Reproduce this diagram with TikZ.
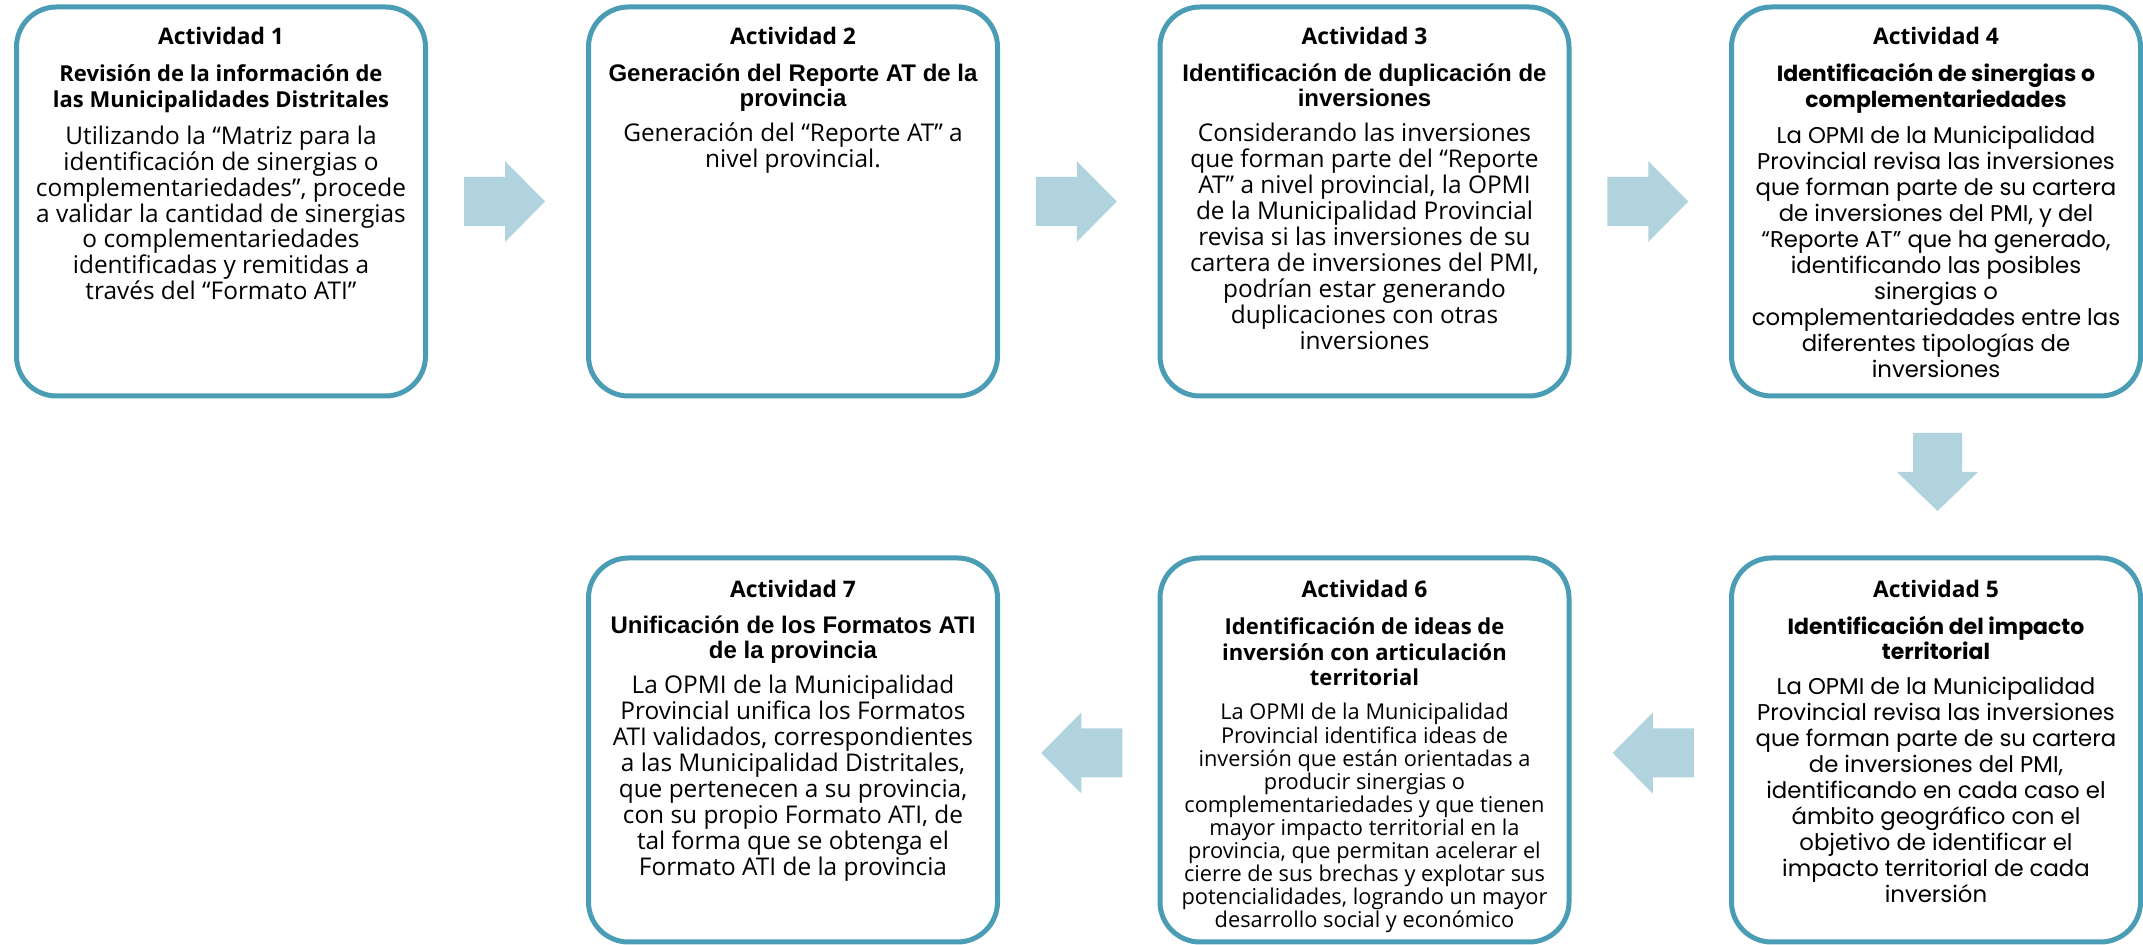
\documentclass[tikz,border=0pt]{standalone}
\usepackage{fontspec}
\setmainfont{Open Sans}
\newfontfamily\popfont{Poppins}
\newfontfamily\arialfont{Liberation Sans}
\usetikzlibrary{calc}
\definecolor{boxline}{RGB}{75,157,181}
\definecolor{arrowfill}{RGB}{176,211,222}
\newcommand{\tblock}[2]{\parbox[t]{230pt}{\centering\lineskiplimit=-100pt\lineskip=0pt #1\ignorespaces #2}}
\newcommand{\fhead}{\fontsize{11.4}{13}\selectfont\bfseries}
\newcommand{\rightblock}[1]{\fill[blockarrow] ([shift={(-40.5,-24.5)}]#1) -- ([shift={(0.5,-24.5)}]#1) -- ([shift={(0.5,-40.5)}]#1) -- ([shift={(40.5,0)}]#1) -- ([shift={(0.5,40.5)}]#1) -- ([shift={(0.5,24.5)}]#1) -- ([shift={(-40.5,24.5)}]#1) -- cycle;}
\newcommand{\leftblock}[1]{\fill[blockarrow] ([shift={(40.5,-24.5)}]#1) -- ([shift={(-0.5,-24.5)}]#1) -- ([shift={(-0.5,-40.5)}]#1) -- ([shift={(-40.5,0)}]#1) -- ([shift={(-0.5,40.5)}]#1) -- ([shift={(-0.5,24.5)}]#1) -- ([shift={(40.5,24.5)}]#1) -- cycle;}
\newcommand{\downblock}[1]{\fill[blockarrow] ([shift={(-24.5,-39)}]#1) -- ([shift={(24.5,-39)}]#1) -- ([shift={(24.5,0)}]#1) -- ([shift={(40.5,0)}]#1) -- ([shift={(0,39)}]#1) -- ([shift={(-40.5,0)}]#1) -- ([shift={(-24.5,0)}]#1) -- cycle;}
\begin{document}
\begin{tikzpicture}[x=0.5pt,y=-0.5pt,
  actbox/.style={draw=boxline, line width=2.5pt, rounded corners=20pt, minimum width=204.5pt, inner sep=0pt, outer sep=0pt},
  toprow/.style={actbox, minimum height=194.5pt},
  botrow/.style={actbox, minimum height=192pt},
  blockarrow/.style={fill=arrowfill, draw=none},
  txt/.style={anchor=base, inner sep=0pt}]
\useasboundingbox (0,0) rectangle (2143,945);

% boxes
\node[toprow] (b1) at (221,201.5) {};
\node[toprow] (b2) at (793,201.5) {};
\node[toprow] (b3) at (1364.5,201.5) {};
\node[toprow] (b4) at (1936,201.5) {};
\node[botrow] (b5) at (1936,750) {};
\node[botrow] (b6) at (1364.5,750) {};
\node[botrow] (b7) at (793,750) {};

% arrows
\coordinate (m12) at ($(b1.east)!0.5!(b2.west)+(-2.5,0)$);
\coordinate (m23) at ($(b2.east)!0.5!(b3.west)+(-2.5,0)$);
\coordinate (m34) at ($(b3.east)!0.5!(b4.west)+(-2.5,0)$);
\coordinate (m45) at ($(b4.south)!0.5!(b5.north)+(1.5,-5)$);
\coordinate (m56) at ($(b5.west)!0.5!(b6.east)+(3,3)$);
\coordinate (m67) at ($(b6.west)!0.5!(b7.east)+(3,3)$);
\rightblock{m12}
\rightblock{m23}
\rightblock{m34}
\downblock{m45}
\leftblock{m56}
\leftblock{m67}

% Box 1
\node[txt] (h1) at (221,45) {\tblock{\fhead}{Actividad 1}};
\node[txt] (s1) at (221,82) {\tblock{\fontsize{11}{13}\selectfont\bfseries}{Revisión de la información de\\las Municipalidades Distritales}};
\node[txt] (d1) at (221,145) {\tblock{\fontsize{12.2}{12.85}\selectfont}{Utilizando la “Matriz para la\\identificación de sinergias o\\complementariedades”, procede\\a validar la cantidad de sinergias\\o complementariedades\\identificadas y remitidas a\\través del “Formato ATI”}};

% Box 2
\node[txt] (h2) at (793,45) {\tblock{\fhead}{Actividad 2}};
\node[txt] (s2) at (793,82) {\tblock{\arialfont\fontsize{12}{12.5}\selectfont\bfseries}{Generación del Reporte AT de la\\provincia}};
\node[txt] (d2) at (793,142) {\tblock{\fontsize{12.2}{12.95}\selectfont}{Generación del “Reporte AT” a\\nivel provincial.}};

% Box 3
\node[txt] (h3) at (1364.5,45) {\tblock{\fhead}{Actividad 3}};
\node[txt] (s3) at (1364.5,82) {\tblock{\arialfont\fontsize{12}{12.5}\selectfont\bfseries}{Identificación de duplicación de\\inversiones}};
\node[txt] (d3) at (1364.5,142) {\tblock{\fontsize{12.2}{12.95}\selectfont}{Considerando las inversiones\\que forman parte del “Reporte\\AT” a nivel provincial, la OPMI\\de la Municipalidad Provincial\\revisa si las inversiones de su\\cartera de inversiones del PMI,\\podrían estar generando\\duplicaciones con otras\\inversiones}};

% Box 4
\node[txt] (h4) at (1936,45) {\tblock{\fhead}{Actividad 4}};
\node[txt] (s4) at (1936,82) {\tblock{\popfont\fontsize{11}{13}\selectfont\bfseries}{Identificación de sinergias o\\complementariedades}};
\node[txt] (d4) at (1936,144) {\tblock{\popfont\fontsize{11.4}{12.95}\selectfont}{La OPMI de la Municipalidad\\Provincial revisa las inversiones\\que forman parte de su cartera\\de inversiones del PMI, y del\\“Reporte AT” que ha generado,\\identificando las posibles\\sinergias o\\complementariedades entre las\\diferentes tipologías de\\inversiones}};

% Box 5
\node[txt] (h5) at (1936,598) {\tblock{\fhead}{Actividad 5}};
\node[txt] (s5) at (1936,635) {\tblock{\popfont\fontsize{11}{12.5}\selectfont\bfseries}{Identificación del impacto\\territorial}};
\node[txt] (d5) at (1936,695) {\tblock{\popfont\fontsize{11.4}{13}\selectfont}{La OPMI de la Municipalidad\\Provincial revisa las inversiones\\que forman parte de su cartera\\de inversiones del PMI,\\identificando en cada caso el\\ámbito geográfico con el\\objetivo de identificar el\\impacto territorial de cada\\inversión}};

% Box 6
\node[txt] (h6) at (1364.5,598) {\tblock{\fhead}{Actividad 6}};
\node[txt] (s6) at (1364.5,635) {\tblock{\fontsize{11}{12.6}\selectfont\bfseries}{Identificación de ideas de\\inversión con articulación\\territorial}};
\node[txt] (d6) at (1364.5,720) {\tblock{\fontsize{10.9}{11.55}\selectfont}{La OPMI de la Municipalidad\\Provincial identifica ideas de\\inversión que están orientadas a\\producir sinergias o\\complementariedades y que tienen\\mayor impacto territorial en la\\provincia, que permitan acelerar el\\cierre de sus brechas y explotar sus\\potencialidades, logrando un mayor\\desarrollo social y económico}};

% Box 7
\node[txt] (h7) at (793,598) {\tblock{\fhead}{Actividad 7}};
\node[txt] (s7) at (793,634) {\tblock{\arialfont\fontsize{12}{12.5}\selectfont\bfseries}{Unificación de los Formatos ATI\\de la provincia}};
\node[txt] (d7) at (793,694) {\tblock{\fontsize{12.2}{12.95}\selectfont}{La OPMI de la Municipalidad\\Provincial unifica los Formatos\\ATI validados, correspondientes\\a las Municipalidad Distritales,\\que pertenecen a su provincia,\\con su propio Formato ATI, de\\tal forma que se obtenga el\\Formato ATI de la provincia}};
\end{tikzpicture}
\end{document}
